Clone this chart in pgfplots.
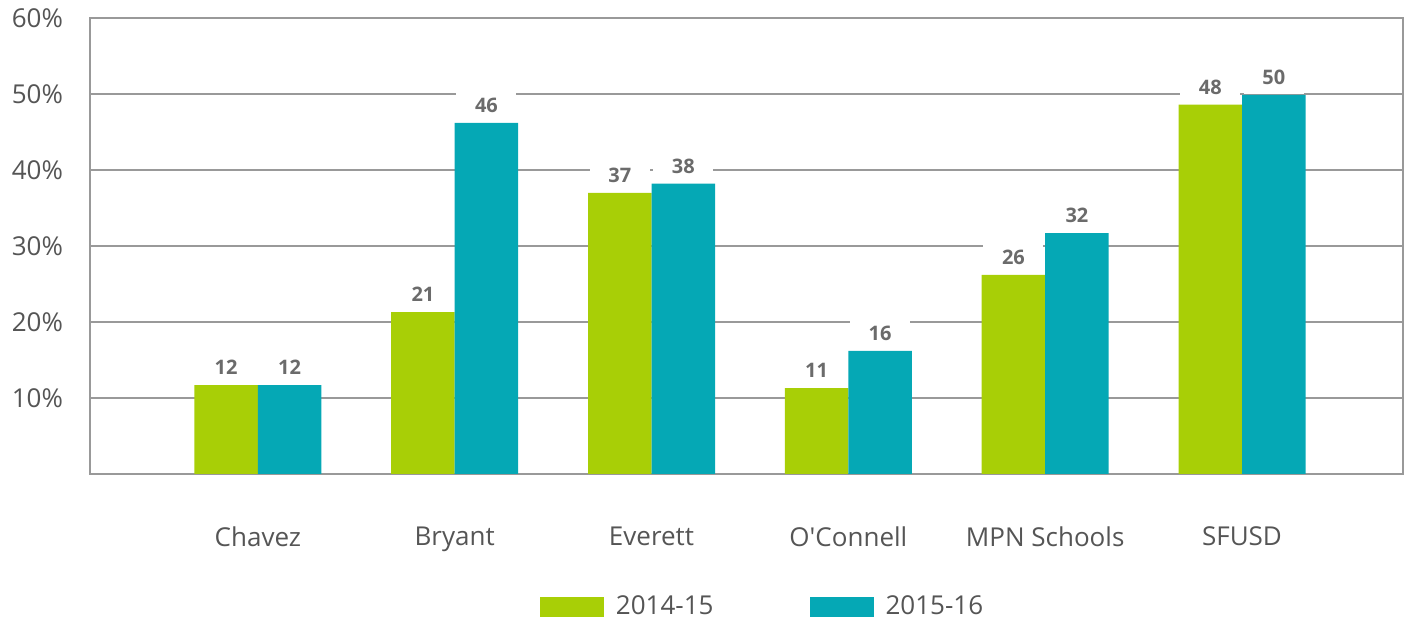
\documentclass[border=0pt]{standalone}
\usepackage{fontspec}
\setmainfont{Open Sans}
\usepackage{pgfplots}
\pgfplotsset{compat=1.18}

\definecolor{cgreen}{HTML}{A8CF06}
\definecolor{cteal}{HTML}{05A8B5}
\definecolor{ctext}{HTML}{555555}
\definecolor{cnum}{HTML}{6B6B6B}
\definecolor{cgrid}{HTML}{999999}

\begin{document}
\begin{tikzpicture}
\begin{axis}[
    scale only axis,
    width=656.5pt, height=228pt,
    ybar=0pt, bar width=31.75pt,
    xmin=-0.853, xmax=5.818,
    ymin=0, ymax=60,
    xtick={0,1,2,3,4,5},
    xticklabels={Chavez,Bryant,Everett,O\textquotesingle Connell,MPN Schools,SFUSD},
    ytick={10,20,30,40,50,60},
    yticklabels={10\%,20\%,30\%,40\%,50\%,60\%},
    major tick length=0pt,
    ymajorgrids, grid style={cgrid, line width=0.7pt},
    axis line style={cgrid, line width=0.7pt},
    tick label style={font=\fontsize{13}{15}\selectfont, text=ctext},
    yticklabel style={xshift=-10pt},
    xticklabel style={yshift=-23pt},
    clip=false,
    point meta=explicit symbolic,
    nodes near coords,
    every node near coord/.append style={
        font=\fontsize{10}{12}\selectfont\bfseries, text=cnum,
        fill=white, inner sep=0pt, anchor=south,
        minimum width=30pt, minimum height=17pt},
    legend columns=2,
    legend style={at={(0.516,-0.2917)}, anchor=center, draw=none,
        font=\fontsize{13}{15}\selectfont, text=ctext,
        /tikz/every even column/.append style={column sep=42pt},
        nodes={inner ysep=3pt, inner xsep=6pt}},
    legend image code/.code={\fill[#1] (0pt,-5pt) rectangle (32pt,5pt);},
]
\addplot[fill=cgreen, draw=none] coordinates {
    (0,11.7) [12] (1,21.3) [21] (2,37.0) [37]
    (3,11.3) [11] (4,26.2) [26] (5,48.6) [48]
};
\addlegendentry{2014-15}
\addplot[fill=cteal, draw=none] coordinates {
    (0,11.7) [12] (1,46.2) [46] (2,38.2) [38]
    (3,16.2) [16] (4,31.7) [32] (5,49.9) [50]
};
\addlegendentry{2015-16}
\path (rel axis cs:0,0) ++(-45pt,-74pt) (rel axis cs:1,1) ++(6.5pt,9pt);
\end{axis}
\end{tikzpicture}
\end{document}
